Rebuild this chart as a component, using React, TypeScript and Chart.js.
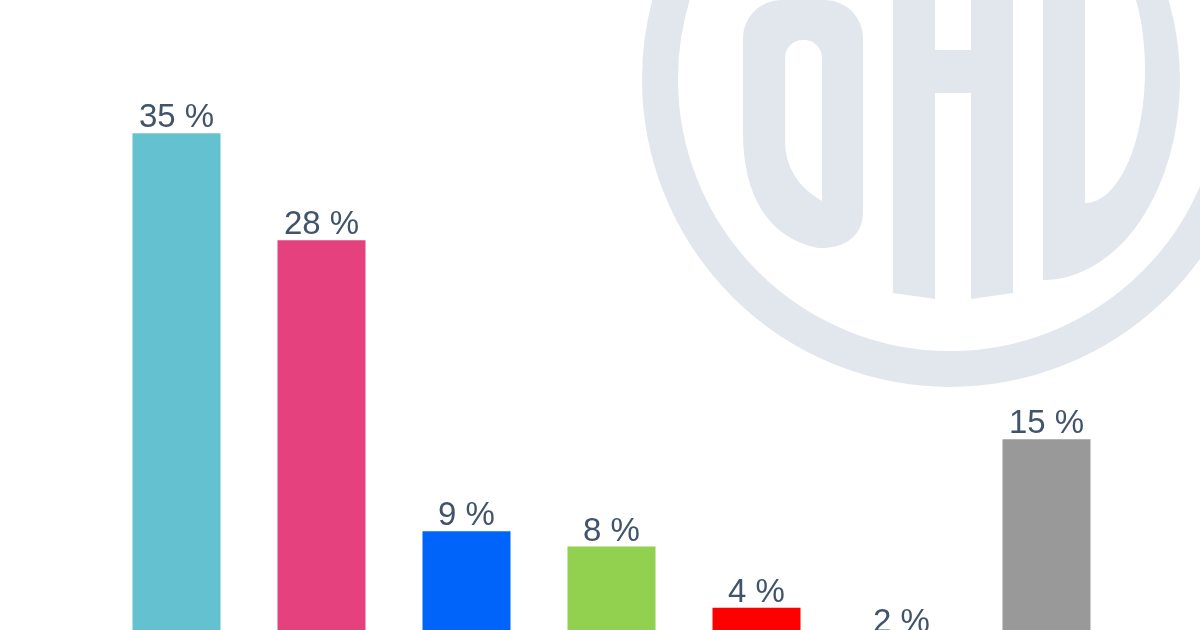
import React, { useEffect, useRef } from "react";
import { Chart, registerables } from "chart.js";

Chart.register(...registerables);

const categories = ["Party A", "Party B", "Party C", "Party D", "Party E", "Party F", "Others"];
const values = [35, 28, 9, 8, 4, 2, 15];
const barColors = ["#64c1cf", "#e6417f", "#0064fa", "#92d050", "#ff0000", "#f5a623", "#999999"];
const labelColor = "#41546c";
const watermarkColor = "#e2e7ee";

const watermarkPlugin = {
  id: "watermark",
  beforeDatasetsDraw(chart: any) {
    const ctx = chart.ctx as CanvasRenderingContext2D;
    ctx.save();
    ctx.fillStyle = watermarkColor;
    ctx.strokeStyle = watermarkColor;
    // ring
    ctx.lineWidth = 36;
    ctx.beginPath();
    ctx.arc(950, 79, 290, 0, Math.PI * 2);
    ctx.stroke();
    // O
    const o = new Path2D();
    o.moveTo(743, 40);
    o.arcTo(743, 0, 781, 0, 38);
    o.lineTo(825, 0);
    o.arcTo(863, 0, 863, 38, 38);
    o.lineTo(863, 212);
    o.bezierCurveTo(863, 238, 842, 249, 818, 248);
    o.bezierCurveTo(768, 238, 743, 195, 743, 133);
    o.closePath();
    o.moveTo(785, 58);
    o.arcTo(785, 40, 803, 40, 18);
    o.arcTo(822, 40, 822, 58, 18);
    o.lineTo(822, 201);
    o.quadraticCurveTo(785, 180, 785, 140);
    o.closePath();
    ctx.fill(o, "evenodd");
    // H
    const h = new Path2D();
    h.moveTo(893, -10);
    h.lineTo(935, -10);
    h.lineTo(935, 50);
    h.lineTo(971, 50);
    h.lineTo(971, -10);
    h.lineTo(1013, -10);
    h.lineTo(1013, 293);
    h.lineTo(971, 299);
    h.lineTo(971, 93);
    h.lineTo(935, 93);
    h.lineTo(935, 299);
    h.lineTo(893, 293);
    h.closePath();
    ctx.fill(h);
    // D
    const d = new Path2D();
    d.moveTo(1043, -130);
    d.lineTo(1043, 280);
    d.ellipse(1043, 80, 137, 200, 0, Math.PI / 2, -Math.PI / 2, true);
    d.closePath();
    d.moveTo(1085, -70);
    d.lineTo(1085, 203);
    d.ellipse(1085, 70, 60, 133, 0, Math.PI / 2, -Math.PI / 2, true);
    d.closePath();
    ctx.fill(d, "evenodd");
    ctx.restore();
  },
};

const valueLabelPlugin = {
  id: "valueLabels",
  afterDatasetsDraw(chart: any) {
    const ctx = chart.ctx as CanvasRenderingContext2D;
    const meta = chart.getDatasetMeta(0);
    ctx.save();
    ctx.fillStyle = labelColor;
    ctx.font = '33px "Liberation Sans", Arial, sans-serif';
    ctx.textAlign = "center";
    ctx.textBaseline = "alphabetic";
    meta.data.forEach((bar: any, i: number) => {
      ctx.fillText(`${values[i]} %`, bar.x, bar.y - 6);
    });
    ctx.restore();
  },
};

export default function App() {
  const canvasRef = useRef<HTMLCanvasElement | null>(null);

  useEffect(() => {
    document.body.style.margin = "0";
    const canvas = canvasRef.current;
    if (!canvas) return;
    const chart = new Chart(canvas, {
      type: "bar",
      data: {
        labels: categories,
        datasets: [
          {
            data: values,
            backgroundColor: barColors,
            borderWidth: 0,
            categoryPercentage: 1,
            barPercentage: 0.607,
          },
        ],
      },
      options: {
        responsive: false,
        animation: false,
        devicePixelRatio: 1,
        layout: { padding: { top: 0, bottom: 31, left: 104, right: 81 } },
        plugins: {
          legend: { display: false },
          tooltip: { enabled: false },
          title: { display: false },
        },
        scales: {
          x: { display: false, grid: { display: false } },
          y: { display: false, min: 0, max: 43.7, grid: { display: false } },
        },
      },
      plugins: [watermarkPlugin, valueLabelPlugin],
    });
    return () => chart.destroy();
  }, []);

  return (
    <div
      style={{
        position: "fixed",
        top: 0,
        left: 0,
        width: 1200,
        height: 630,
        overflow: "hidden",
        background: "#ffffff",
      }}
    >
      <canvas ref={canvasRef} width={1200} height={700} style={{ display: "block" }} />
    </div>
  );
}
